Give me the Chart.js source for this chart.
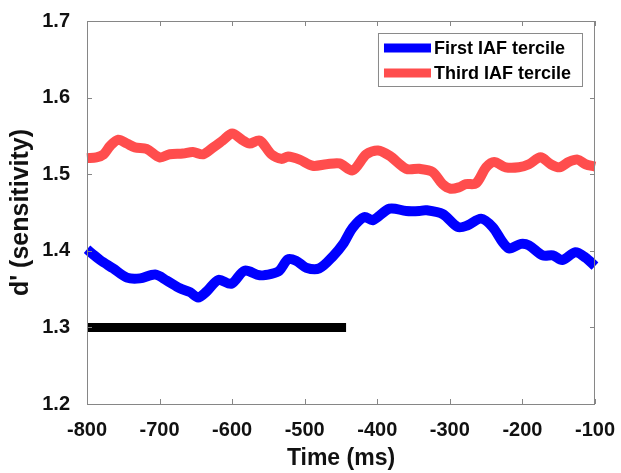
<!DOCTYPE html>
<html>
<head>
<meta charset="utf-8">
<script src="https://cdn.jsdelivr.net/npm/chart.js@4"></script>
<style>
  html, body { margin: 0; padding: 0; background: #fff; }
  #wrap { width: 621px; height: 473px; }
</style>
</head>
<body>
<div id="wrap"><canvas id="fig" width="621" height="473"></canvas></div>
<script>
// ── Données ───────────────────────────────────────────────────────────────
var xTicks = [-800, -700, -600, -500, -400, -300, -200, -100];
var yTicks = [1.2, 1.3, 1.4, 1.5, 1.6, 1.7];

var firstTimes = [-800, -790, -782, -764, -745, -727, -706, -690, -672, -658, -647, -635,
                  -619, -601, -583, -562, -546, -535, -523, -512, -498, -480, -461, -447,
                  -434, -418, -406, -383, -360, -342, -333, -310, -289, -276, -257, -241,
                  -227, -218, -202, -191, -172, -158, -145, -127, -113, -100];
var firstValues = [1.402, 1.394, 1.388, 1.377, 1.365, 1.364, 1.369, 1.361, 1.351, 1.346, 1.339, 1.347,
                   1.362, 1.357, 1.374, 1.368, 1.370, 1.374, 1.389, 1.387, 1.378, 1.377, 1.393, 1.409,
                   1.430, 1.444, 1.440, 1.455, 1.452, 1.452, 1.453, 1.448, 1.431, 1.433, 1.442, 1.431,
                   1.411, 1.403, 1.409, 1.407, 1.394, 1.394, 1.388, 1.398, 1.391, 1.380];

var thirdTimes = [-800, -787, -777, -768, -757, -745, -734, -718, -700, -686, -668, -654,
                  -640, -626, -613, -600, -585, -576, -562, -546, -532, -523, -507, -489,
                  -470, -452, -434, -415, -399, -383, -360, -342, -324, -310, -299, -287,
                  -278, -264, -250, -239, -223, -205, -191, -175, -161, -149, -136, -124,
                  -113, -100];
var thirdValues = [1.521, 1.522, 1.526, 1.537, 1.545, 1.540, 1.535, 1.533, 1.522, 1.526, 1.527, 1.529,
                   1.526, 1.535, 1.544, 1.553, 1.544, 1.540, 1.544, 1.526, 1.520, 1.523, 1.519, 1.511,
                   1.513, 1.514, 1.505, 1.526, 1.531, 1.524, 1.507, 1.507, 1.503, 1.487, 1.481, 1.483,
                   1.487, 1.488, 1.509, 1.516, 1.509, 1.509, 1.513, 1.522, 1.513, 1.509, 1.516, 1.519,
                   1.513, 1.510];

// fenêtre significative (barre noire)
var barTimes  = [-800, -443];
var barValues = [1.3, 1.3];

var FONT = '"Liberation Sans", Arial, Helvetica, sans-serif';

function toPoints(xs, ys) {
    return xs.map(function (x, i) { return { x: x, y: ys[i] }; });
}

// ── Cadre + graduations vers l'intérieur (style MATLAB) ───────────────────
var boxPlugin = {
    id: 'box',
    afterDatasetsDraw: function (chart) {
        var ctx = chart.ctx, a = chart.chartArea;
        var sx = chart.scales.x, sy = chart.scales.y;
        var tl = 5;
        ctx.save();
        ctx.strokeStyle = '#868686';
        ctx.lineWidth = 1;
        ctx.strokeRect(a.left + 0.5, a.top + 0.5, a.right - a.left - 1, a.bottom - a.top);
        ctx.beginPath();
        xTicks.forEach(function (t) {
            var px = Math.round(sx.getPixelForValue(t)) + 0.5;
            ctx.moveTo(px, a.bottom); ctx.lineTo(px, a.bottom - tl);
            ctx.moveTo(px, a.top);    ctx.lineTo(px, a.top + tl);
        });
        yTicks.forEach(function (t) {
            var py = Math.round(sy.getPixelForValue(t)) + 0.5;
            ctx.moveTo(a.left, py);  ctx.lineTo(a.left + tl, py);
            ctx.moveTo(a.right, py); ctx.lineTo(a.right - tl, py);
        });
        ctx.stroke();
        ctx.restore();
    }
};

// ── Légende dans le cadre, en haut à droite ───────────────────────────────
var legendPlugin = {
    id: 'boxLegend',
    afterDraw: function (chart) {
        var ctx = chart.ctx, a = chart.chartArea;
        var items = chart.data.datasets.filter(function (d) { return d.label; });
        var x0 = a.right - 13, y0 = a.top + 12;
        var w = 204, h = 53;
        var left = x0 - w;
        ctx.save();
        ctx.fillStyle = '#fff';
        ctx.fillRect(left, y0, w, h);
        ctx.strokeStyle = '#8a8a8a';
        ctx.lineWidth = 1;
        ctx.strokeRect(left + 0.5, y0 + 0.5, w, h);
        ctx.font = 'bold 18px ' + FONT;
        ctx.textBaseline = 'middle';
        items.forEach(function (d, i) {
            var yy = y0 + 15 + i * 25;
            ctx.strokeStyle = d.borderColor;
            ctx.lineWidth = 9;
            ctx.beginPath();
            ctx.moveTo(left + 6, yy);
            ctx.lineTo(left + 53, yy);
            ctx.stroke();
            ctx.fillStyle = '#000';
            ctx.fillText(d.label, left + 56, yy + 1);
        });
        ctx.restore();
    }
};

new Chart(document.getElementById('fig').getContext('2d'), {
    type: 'line',
    data: {
        datasets: [{
            label: 'First IAF tercile',
            data: toPoints(firstTimes, firstValues),
            borderColor: '#0000ff',
            borderWidth: 10,
            borderJoinStyle: 'round',
            pointRadius: 0,
            tension: 0.3,
            clip: false
        }, {
            label: 'Third IAF tercile',
            data: toPoints(thirdTimes, thirdValues),
            borderColor: '#ff4d4d',
            borderWidth: 10,
            borderJoinStyle: 'round',
            pointRadius: 0,
            tension: 0.3,
            clip: false
        }, {
            data: toPoints(barTimes, barValues),
            borderColor: '#000',
            borderWidth: 9,
            pointRadius: 0,
            clip: false
        }]
    },
    options: {
        responsive: false,
        animation: false,
        layout: { padding: { left: 0, right: 25, top: 20, bottom: 0 } },
        plugins: { legend: { display: false }, tooltip: { enabled: false } },
        scales: {
            x: {
                type: 'linear',
                min: -800, max: -100,
                afterBuildTicks: function (s) { s.ticks = xTicks.map(function (v) { return { value: v }; }); },
                afterFit: function (s) { s.height = 69; },
                grid: { display: false },
                border: { display: false },
                ticks: {
                    padding: 6,
                    color: '#111',
                    maxRotation: 0,
                    font: { family: FONT, size: 20, weight: 'bold' },
                    callback: function (v) { return String(v); }
                },
                title: {
                    display: true, text: 'Time (ms)', color: '#111',
                    font: { family: FONT, size: 23, weight: 'bold' },
                    padding: { top: 0, bottom: 1 }
                }
            },
            y: {
                min: 1.2, max: 1.7,
                afterBuildTicks: function (s) { s.ticks = yTicks.map(function (v) { return { value: v }; }); },
                afterFit: function (s) { s.width = 87; },
                grid: { display: false },
                border: { display: false },
                ticks: {
                    padding: 9,
                    color: '#111',
                    font: { family: FONT, size: 20, weight: 'bold' },
                    callback: function (v) { return Number(v).toFixed(1); }
                },
                title: {
                    display: true, text: "d' (sensitivity)", color: '#111',
                    font: { family: FONT, size: 25, weight: 'bold' },
                    padding: { top: 6, bottom: 0 }
                }
            }
        }
    },
    plugins: [boxPlugin, legendPlugin]
});
</script>
</body>
</html>
